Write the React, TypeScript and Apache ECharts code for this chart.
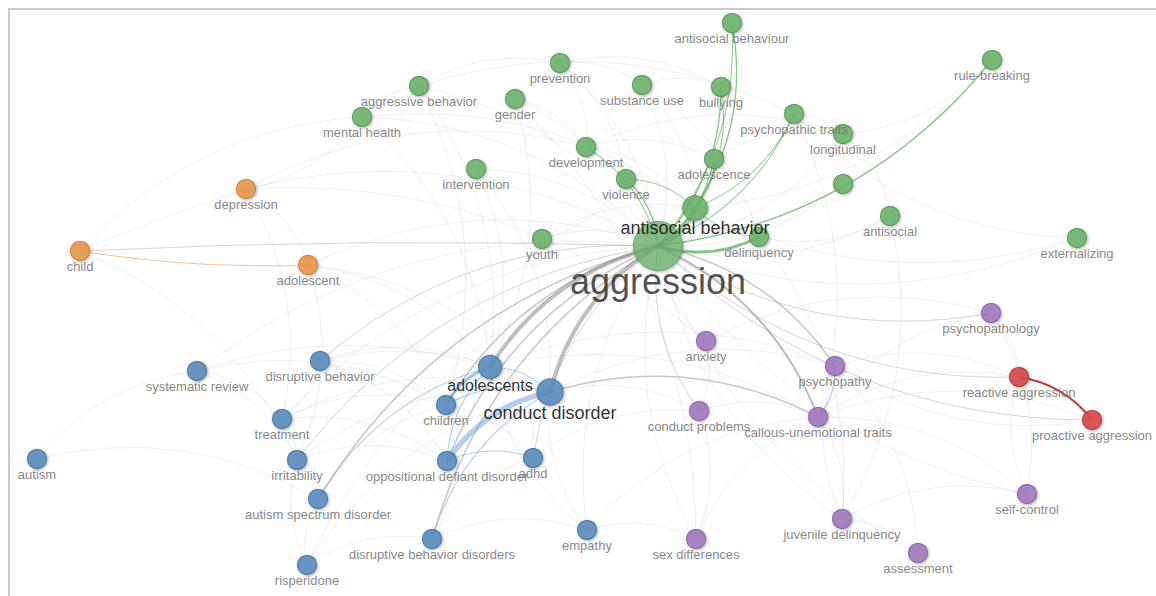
import React, { useEffect, useRef } from "react";
import * as echarts from "echarts";

// ---- Data (VOSviewer map coordinates, clusters, occurrence weights) ----
const nodeNames = [
  "aggression", "antisocial behavior", "antisocial behaviour", "prevention", "substance use",
  "bullying", "aggressive behavior", "mental health", "gender", "psychopathic traits",
  "longitudinal", "development", "adolescence", "intervention", "violence",
  "behavior problems", "antisocial", "externalizing", "rule-breaking", "delinquency",
  "youth", "depression", "child", "adolescent", "systematic review",
  "disruptive behavior", "treatment", "autism", "irritability", "autism spectrum disorder",
  "risperidone", "adolescents", "conduct disorder", "children", "oppositional defiant disorder",
  "adhd", "disruptive behavior disorders", "empathy", "anxiety", "psychopathy",
  "psychopathology", "conduct problems", "callous-unemotional traits", "sex differences", "juvenile delinquency",
  "self-control", "assessment", "reactive aggression", "proactive aggression",
];
const nodeX = [
  658, 695, 732, 560, 642,
  721, 419, 362, 515, 794,
  843, 586, 714, 476, 626,
  843, 890, 1077, 992, 759,
  542, 246, 80, 308, 197,
  320, 282, 37, 297, 318,
  307, 490, 550, 446, 447,
  533, 432, 587, 706, 835,
  991, 699, 818, 696, 842,
  1027, 918, 1019, 1092,
];
const nodeY = [
  246, 208, 23, 63, 85,
  87, 86, 117, 99, 114,
  134, 147, 159, 169, 179,
  184, 216, 238, 60, 237,
  239, 189, 251, 265, 371,
  361, 419, 459, 460, 499,
  565, 367, 392, 405, 461,
  458, 539, 530, 341, 366,
  313, 411, 417, 539, 519,
  494, 553, 377, 420,
];
// 0 green, 1 orange, 2 blue, 3 purple, 4 red
const nodeCluster = [
  0, 0, 0, 0, 0,
  0, 0, 0, 0, 0,
  0, 0, 0, 0, 0,
  0, 0, 0, 0, 0,
  0, 1, 1, 1, 2,
  2, 2, 2, 2, 2,
  2, 2, 2, 2, 2,
  2, 2, 2, 3, 3,
  3, 3, 3, 3, 3,
  3, 3, 4, 4,
];
const nodeWeight = [
  67, 17, 10, 10, 10,
  10, 10, 10, 10, 10,
  10, 10, 10, 10, 10,
  10, 10, 10, 10, 10,
  10, 10, 10, 10, 10,
  10, 10, 10, 10, 10,
  10, 15, 19, 10, 10,
  10, 10, 10, 10, 10,
  10, 10, 10, 10, 10,
  10, 10, 10, 10,
];
const hiddenLabels = ["behavior problems"];

const links: [string, string, number][] = [
  // links to aggression
  ["antisocial behavior", "aggression", 6],
  ["antisocial behaviour", "aggression", 2],
  ["prevention", "aggression", 1],
  ["substance use", "aggression", 1],
  ["bullying", "aggression", 3],
  ["aggressive behavior", "aggression", 1],
  ["mental health", "aggression", 1],
  ["gender", "aggression", 1],
  ["psychopathic traits", "aggression", 2],
  ["longitudinal", "aggression", 1],
  ["development", "aggression", 2],
  ["adolescence", "aggression", 3],
  ["intervention", "aggression", 1],
  ["violence", "aggression", 3],
  ["behavior problems", "aggression", 1],
  ["antisocial", "aggression", 1],
  ["externalizing", "aggression", 1],
  ["rule-breaking", "aggression", 3],
  ["delinquency", "aggression", 4],
  ["youth", "aggression", 1],
  ["depression", "aggression", 1],
  ["child", "aggression", 2],
  ["adolescent", "aggression", 1],
  ["systematic review", "aggression", 1],
  ["disruptive behavior", "aggression", 2],
  ["treatment", "aggression", 1],
  ["irritability", "aggression", 2],
  ["autism spectrum disorder", "aggression", 3],
  ["risperidone", "aggression", 1],
  ["adolescents", "aggression", 6],
  ["conduct disorder", "aggression", 6],
  ["children", "aggression", 3],
  ["oppositional defiant disorder", "aggression", 3],
  ["adhd", "aggression", 2],
  ["disruptive behavior disorders", "aggression", 3],
  ["empathy", "aggression", 1],
  ["anxiety", "aggression", 1],
  ["aggression", "psychopathy", 3],
  ["psychopathology", "aggression", 2],
  ["conduct problems", "aggression", 2],
  ["aggression", "callous-unemotional traits", 4],
  ["sex differences", "aggression", 1],
  ["juvenile delinquency", "aggression", 1],
  ["self-control", "aggression", 1],
  ["assessment", "aggression", 1],
  ["reactive aggression", "aggression", 2],
  ["proactive aggression", "aggression", 2],
  // green cluster
  ["antisocial behaviour", "antisocial behavior", 3],
  ["antisocial behaviour", "bullying", 1],
  ["bullying", "antisocial behavior", 2],
  ["prevention", "bullying", 1],
  ["substance use", "bullying", 1],
  ["bullying", "adolescence", 1],
  ["prevention", "substance use", 1],
  ["aggressive behavior", "prevention", 1],
  ["prevention", "violence", 1],
  ["prevention", "development", 1],
  ["mental health", "aggressive behavior", 1],
  ["aggressive behavior", "children", 1],
  ["aggressive behavior", "adolescents", 1],
  ["aggressive behavior", "psychopathic traits", 1],
  ["child", "mental health", 1],
  ["mental health", "depression", 1],
  ["mental health", "antisocial behavior", 1],
  ["mental health", "adolescents", 1],
  ["gender", "development", 1],
  ["gender", "sex differences", 1],
  ["gender", "adolescents", 1],
  ["substance use", "delinquency", 1],
  ["substance use", "antisocial behavior", 1],
  ["psychopathic traits", "antisocial behavior", 2],
  ["psychopathic traits", "callous-unemotional traits", 1],
  ["psychopathic traits", "longitudinal", 1],
  ["externalizing", "psychopathic traits", 1],
  ["longitudinal", "antisocial", 1],
  ["rule-breaking", "longitudinal", 1],
  ["development", "longitudinal", 1],
  ["development", "antisocial behavior", 1],
  ["development", "adolescence", 1],
  ["adolescence", "antisocial behavior", 2],
  ["adolescence", "longitudinal", 1],
  ["intervention", "adolescents", 1],
  ["intervention", "conduct disorder", 1],
  ["violence", "antisocial behavior", 2],
  ["violence", "youth", 1],
  ["youth", "antisocial behavior", 1],
  ["antisocial", "delinquency", 1],
  ["antisocial", "juvenile delinquency", 1],
  ["externalizing", "antisocial behavior", 1],
  ["rule-breaking", "antisocial behavior", 1],
  ["delinquency", "antisocial behavior", 2],
  ["delinquency", "juvenile delinquency", 1],
  // orange cluster
  ["depression", "adolescent", 1],
  ["child", "depression", 1],
  ["depression", "anxiety", 1],
  ["depression", "development", 1],
  ["depression", "treatment", 1],
  ["adolescent", "child", 2],
  ["child", "irritability", 1],
  ["adolescent", "children", 1],
  ["adolescent", "conduct disorder", 1],
  ["adolescent", "adolescents", 1],
  ["adolescent", "irritability", 1],
  // blue cluster
  ["autism", "systematic review", 1],
  ["systematic review", "treatment", 1],
  ["systematic review", "irritability", 1],
  ["systematic review", "children", 1],
  ["systematic review", "conduct disorder", 1],
  ["autism", "autism spectrum disorder", 1],
  ["disruptive behavior", "children", 1],
  ["disruptive behavior", "conduct disorder", 1],
  ["disruptive behavior", "oppositional defiant disorder", 1],
  ["disruptive behavior", "adolescents", 1],
  ["disruptive behavior", "treatment", 1],
  ["treatment", "conduct disorder", 1],
  ["treatment", "children", 1],
  ["treatment", "irritability", 1],
  ["treatment", "oppositional defiant disorder", 1],
  ["irritability", "oppositional defiant disorder", 1],
  ["irritability", "autism spectrum disorder", 1],
  ["irritability", "conduct disorder", 1],
  ["risperidone", "irritability", 1],
  ["autism spectrum disorder", "children", 1],
  ["risperidone", "autism spectrum disorder", 1],
  ["autism spectrum disorder", "adolescents", 2],
  ["risperidone", "disruptive behavior disorders", 1],
  ["risperidone", "conduct disorder", 1],
  ["children", "adolescents", 4],
  ["adolescents", "conduct disorder", 2],
  ["oppositional defiant disorder", "adolescents", 2],
  ["adolescents", "psychopathy", 1],
  ["adolescents", "callous-unemotional traits", 1],
  ["oppositional defiant disorder", "conduct disorder", 6],
  ["children", "conduct disorder", 2],
  ["adhd", "conduct disorder", 1],
  ["conduct disorder", "callous-unemotional traits", 3],
  ["conduct disorder", "psychopathy", 1],
  ["disruptive behavior disorders", "conduct disorder", 2],
  ["empathy", "conduct disorder", 1],
  ["conduct disorder", "conduct problems", 1],
  ["children", "oppositional defiant disorder", 1],
  ["children", "adhd", 1],
  ["oppositional defiant disorder", "adhd", 2],
  ["oppositional defiant disorder", "disruptive behavior disorders", 1],
  ["disruptive behavior disorders", "adhd", 1],
  ["adhd", "conduct problems", 1],
  ["disruptive behavior disorders", "empathy", 1],
  ["empathy", "callous-unemotional traits", 1],
  ["empathy", "sex differences", 1],
  ["empathy", "adolescents", 1],
  // purple / red clusters
  ["anxiety", "conduct problems", 1],
  ["anxiety", "psychopathology", 1],
  ["psychopathy", "callous-unemotional traits", 2],
  ["psychopathy", "reactive aggression", 1],
  ["juvenile delinquency", "psychopathy", 1],
  ["psychopathy", "assessment", 1],
  ["callous-unemotional traits", "psychopathology", 1],
  ["psychopathology", "reactive aggression", 1],
  ["psychopathology", "self-control", 1],
  ["conduct problems", "callous-unemotional traits", 1],
  ["conduct problems", "sex differences", 1],
  ["callous-unemotional traits", "proactive aggression", 1],
  ["callous-unemotional traits", "reactive aggression", 1],
  ["callous-unemotional traits", "juvenile delinquency", 1],
  ["callous-unemotional traits", "self-control", 1],
  ["sex differences", "callous-unemotional traits", 1],
  ["juvenile delinquency", "self-control", 1],
  ["juvenile delinquency", "assessment", 1],
  ["self-control", "reactive aggression", 1],
  ["reactive aggression", "proactive aggression", 4],
  ["proactive aggression", "psychopathy", 1],
];

// ---- Styles ----
const clusterColors = ["#6cb36c", "#e8974a", "#5a8cbd", "#a27abf", "#d8474b"];
const clusterBorders = ["#4f9350", "#c97a30", "#3f6f9f", "#835ba0", "#b52f33"];
const clusterLinkColors = ["#3f9a40", "#e08a3c", "#6fa0d2", "#9a70b8", "#b0262c"];
const linkGray = "#8a8a8a";
const curvenessOverride: Record<string, number> = {
  "child|aggression": 0.02,
  "child|depression": 0.02,
  "adolescent|child": 0.05,
};

function sizeOf(w: number) {
  return 6 * Math.sqrt(w);
}
function fontOf(w: number) {
  if (w >= 60) return 36;
  if (w >= 17) return 18;
  if (w >= 14) return 16;
  return 13;
}

export default function App() {
  const ref = useRef<HTMLDivElement>(null);

  useEffect(() => {
    if (!ref.current) return;
    const chart = echarts.init(ref.current, undefined, { renderer: "svg" });
    const idx: Record<string, number> = {};
    nodeNames.forEach((n, i) => (idx[n] = i));

    const data = nodeNames.map((name, i) => {
      const w = nodeWeight[i];
      const fs = fontOf(w);
      const big = fs > 13;
      return {
        name,
        value: [nodeX[i], nodeY[i]],
        symbolSize: sizeOf(w),
        itemStyle: {
          color: clusterColors[nodeCluster[i]],
          borderColor: clusterBorders[nodeCluster[i]],
          borderWidth: 1,
          opacity: w >= 60 ? 0.72 : 0.88,
          shadowBlur: 3,
          shadowColor: "rgba(0,0,0,0.35)",
          shadowOffsetX: 1,
          shadowOffsetY: 1,
        },
        label: {
          show: hiddenLabels.indexOf(name) < 0,
          position: "bottom",
          distance: w >= 60 ? -8 : big ? -2 : -1,
          fontSize: fs,
          color: big ? "#111111" : "#747474",
          fontFamily: 'Arial, "Liberation Sans", sans-serif',
        },
      };
    });

    const linkData = links.map(([s, t, w]) => {
      const a = idx[s];
      const b = idx[t];
      const same = nodeCluster[a] === nodeCluster[b] && w >= 2;
      let width: number;
      let opacity: number;
      let color: string;
      if (same) {
        color = clusterLinkColors[nodeCluster[a]];
        if (w >= 5) {
          width = 5.5;
          opacity = 0.5;
        } else if (w === 4) {
          width = nodeCluster[a] === 4 ? 2 : 3;
          opacity = nodeCluster[a] === 4 ? 0.9 : 0.6;
        } else {
          width = 0.8 + 0.25 * (w - 1);
          opacity = 0.4 + 0.1 * (w - 1);
        }
      } else {
        color = linkGray;
        if (w >= 5) {
          width = 4;
          opacity = 0.55;
        } else {
          width = 0.6 + 0.4 * (w - 1);
          opacity = 0.22 + 0.13 * (w - 1);
        }
      }
      const key = s + "|" + t;
      return {
        source: a,
        target: b,
        lineStyle: {
          color,
          width,
          opacity,
          curveness: key in curvenessOverride ? curvenessOverride[key] : 0.2,
        },
      };
    });

    chart.setOption({
      animation: false,
      backgroundColor: "#ffffff",
      grid: { left: 0, right: 0, top: 0, bottom: 0 },
      xAxis: { type: "value", min: 0, max: 1156, show: false },
      yAxis: { type: "value", min: 0, max: 596, inverse: true, show: false },
      graphic: [
        {
          type: "line",
          shape: { x1: 8, y1: 9, x2: 1156, y2: 9 },
          style: { stroke: "#cccccc", lineWidth: 2 },
          silent: true,
        },
        {
          type: "line",
          shape: { x1: 9, y1: 8, x2: 9, y2: 596 },
          style: { stroke: "#cccccc", lineWidth: 2 },
          silent: true,
        },
      ],
      series: [
        {
          type: "graph",
          layout: "none",
          coordinateSystem: "cartesian2d",
          symbol: "circle",
          data,
          links: linkData,
          label: { show: true, formatter: "{b}" },
          emphasis: { disabled: true },
          silent: true,
        },
      ],
    });
    return () => chart.dispose();
  }, []);

  return (
    <div style={{ position: "fixed", left: 0, top: 0, width: 1156, height: 596, overflow: "hidden", background: "#fff" }}>
      <div ref={ref} style={{ position: "absolute", left: 0, top: 0, width: 1156, height: 596 }} />
    </div>
  );
}
